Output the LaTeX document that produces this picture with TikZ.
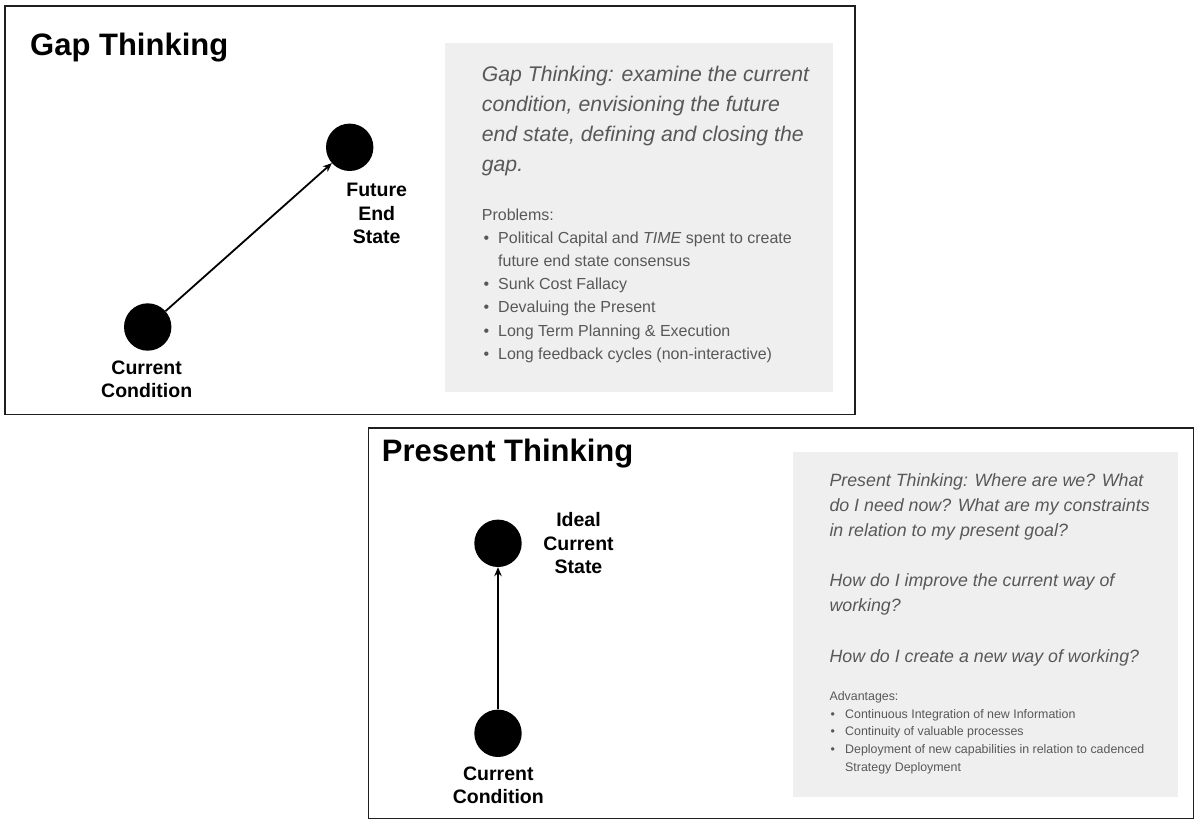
\documentclass[tikz,border=0pt]{standalone}
\usepackage{fontspec}
\setmainfont{Liberation Sans}
\usetikzlibrary{arrows.meta}
\definecolor{panelgray}{RGB}{239,239,239}
\definecolor{txtgray}{RGB}{88,88,88}
\tikzstyle{frame}=[draw=black!88,line width=1.6pt]
\tikzstyle{panel}=[fill=panelgray]
\tikzstyle{dot}=[circle,fill=black,minimum size=47.4pt,inner sep=0pt]
\tikzstyle{lbl}=[anchor=base,align=center,inner sep=0pt,font=\fontsize{19.5}{23.3}\selectfont\bfseries]
\tikzstyle{ttl}=[anchor=base west,inner sep=0pt,font=\fontsize{31}{36}\selectfont\bfseries]
\tikzstyle{note}=[anchor=base west,align=left,inner sep=0pt,text=txtgray]
\tikzstyle{link}=[line width=1.8pt,-{Stealth[length=9pt,width=7.5pt]}]
\newcommand\pitem[1]{\hspace{#1}\makebox[14.5pt][l]{\textbullet}}

\begin{document}
\begin{tikzpicture}[x=1pt,y=-1pt]
\useasboundingbox (0,0) rectangle (1200,827);
% gap thinking (multi-line nodes sit on their last baseline)
\draw[frame] (5,5.7) rectangle (855,414.3);
\fill[panel] (445,42.7) rectangle (833.3,391.7);
\node[ttl] (gaptitle) at (30,55) {Gap Thinking};
\node[dot] (gapnow) at (147.7,327) {};
\node[dot] (gapend) at (349.7,147.3) {};
\node[lbl] (gapnowlbl) at (146.7,397.7) {Current\\Condition};
\node[lbl] (gapendlbl) at (376.7,243.3) {Future\\End\\State};
\draw[link] (gapnow) -- (gapend);
\node[note,font=\fontsize{21.2}{30}\selectfont\itshape] (gaptext) at (481.7,171)
  {Gap Thinking: examine the current\\condition, envisioning the future\\end state, defining and closing the\\gap.};
\node[note,font=\fontsize{16}{23.2}\selectfont] (gaplist) at (481.7,359.3)
  {Problems:\\
   \pitem{1.8pt}Political Capital and \textit{TIME} spent to create\\
   \hspace{16.3pt}future end state consensus\\
   \pitem{1.8pt}Sunk Cost Fallacy\\
   \pitem{1.8pt}Devaluing the Present\\
   \pitem{1.8pt}Long Term Planning \& Execution\\
   \pitem{1.8pt}Long feedback cycles (non-interactive)};
% present thinking
\draw[frame] (368.3,427.7) rectangle (1193.3,818.3);
\fill[panel] (792.7,451.7) rectangle (1178,796.7);
\node[ttl] (pretitle) at (381.7,461.7) {Present Thinking};
\node[dot] (prenow) at (498,733.3) {};
\node[dot] (preideal) at (498,543.3) {};
\node[lbl] (prenowlbl) at (498.3,803.3) {Current\\Condition};
\node[lbl] (preideallbl) at (578.5,573.3) {Ideal\\Current\\State};
\draw[link] (prenow) -- (preideal);
\node[note,font=\fontsize{17.8}{25}\selectfont\itshape] (pretext) at (829.3,662.7)
  {Present Thinking: Where are we? What\\do I need now? What are my constraints\\in relation to my present goal?\\[25.6pt]
   How do I improve the current way of\\working?\\[26pt]
   How do I create a new way of working?};
\node[note,font=\fontsize{12.4}{17.6}\selectfont] (prelist) at (829.3,771)
  {Advantages:\\
   \pitem{1.2pt}Continuous Integration of new Information\\
   \pitem{1.2pt}Continuity of valuable processes\\
   \pitem{1.2pt}Deployment of new capabilities in relation to cadenced\\
   \hspace{15.7pt}Strategy Deployment};
\end{tikzpicture}
\end{document}
